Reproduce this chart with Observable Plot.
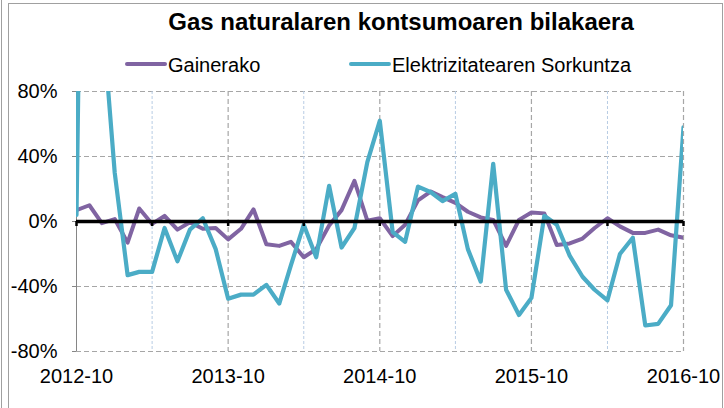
<!DOCTYPE html>
<html>
<head>
<meta charset="utf-8">
<script src="https://cdn.jsdelivr.net/npm/d3@7"></script>
<script src="https://cdn.jsdelivr.net/npm/@observablehq/plot@0.6"></script>
<style>
  html, body { margin: 0; padding: 0; background: #fff; }
  #chart { position: relative; width: 724px; height: 408px; overflow: hidden; font-family: "Liberation Sans", Arial, sans-serif; }
  .frame { position: absolute; left: 8px; top: 3px; width: 713px; height: 430px; border: 1px solid #a0a0a0; }
  .frame2 { position: absolute; left: 1px; top: 0px; width: 0; height: 408px; border-left: 1px solid #a0a0a0; }
  #title { position: absolute; top: 10px; left: 401px; transform: translateX(-50%); white-space: nowrap; font-weight: bold; font-size: 24px; line-height: 23px; color: #000; }
  .leg { position: absolute; top: 55px; font-size: 20px; line-height: 20px; white-space: nowrap; color: #000; }
  .sw { position: absolute; height: 4px; top: 62px; }
  #plot { position: absolute; left: 0; top: 80px; }
</style>
</head>
<body>
<div id="chart">
  <div class="frame"></div>
  <div class="frame2"></div>
  <div id="title"></div>
  <div id="legend"></div>
  <div id="plot"></div>
</div>
<script>
const title = "Gas naturalaren kontsumoaren bilakaera";
const seriesNames = ["Gainerako", "Elektrizitatearen Sorkuntza"];
const seriesColors = ["#8064a2", "#4bacc6"];

// monthly, 2012-10 .. 2016-10
const firstMonth = "2012-10";
const lastMonth = "2016-10";

const gainerako = [7, 10, -1, 1.5, -13, 8, -1.5, 3.5, -5, -0.5, -4.5, -4, -11,
  -4.5, 7.5, -14, -15, -12.5, -22, -17, -2.5, 7, 25, 0.5, 2,
  -9, -2, 13, 18.5, 15, 11.5, 6, 2.5, 1, -15, 1, 5.5,
  5, -14.5, -13.5, -10.5, -4, 2, -3, -7, -7, -5, -8.5, -10];

const elektrizitatea = [4, 570, 130, 30, -33, -31, -31, -4, -24.5, -5, 2, -17, -47.5,
  -45, -45, -39, -50.5, -27, -2, -22, 22, -16, -4, 36.5, 62,
  -6.5, -12.5, 21.5, 18, 12.5, 17, -17, -37, 35.5, -42, -57.5, -47,
  3.5, -2, -21, -34, -42, -48.5, -20, -10, -64, -63, -51.5, 58];

const yTicks = [80, 40, 0, -40, -80];
const yGrid = [80, 40, -40, -80];
const xTickLabels = ["2012-10", "2013-10", "2014-10", "2015-10", "2016-10"];
const yearGrid = ["2013-10", "2014-10", "2015-10", "2016-10"];
const halfYearGrid = ["2013-04", "2014-04", "2015-04", "2016-04"];
const axisTicks = ["2012-10", "2013-04", "2013-10", "2014-04", "2014-10", "2015-04", "2015-10", "2016-04", "2016-10"];

const parse = d3.utcParse("%Y-%m");
const start = parse(firstMonth), end = parse(lastMonth);
const months = d3.utcMonth.range(start, d3.utcMonth.offset(end, 1));

const dataG = months.map((d, i) => ({date: d, value: gainerako[i]}));
const dataE = months.map((d, i) => ({date: d, value: elektrizitatea[i]}));

document.getElementById("title").textContent = title;

// legend
const legend = document.getElementById("legend");
const legPos = [{sw: 125, tx: 168}, {sw: 349, tx: 392}];
seriesNames.forEach((name, k) => {
  const sw = document.createElement("div");
  sw.className = "sw";
  sw.style.left = legPos[k].sw + "px";
  sw.style.width = "42px";
  sw.style.background = seriesColors[k];
  sw.style.borderRadius = "2px";
  legend.appendChild(sw);
  const t = document.createElement("div");
  t.className = "leg";
  t.style.left = legPos[k].tx + "px";
  t.textContent = name;
  legend.appendChild(t);
});

const fmt = d3.utcFormat("%Y-%m");

const plot = Plot.plot({
  width: 724,
  height: 328,
  marginTop: 11,
  marginBottom: 57,
  marginLeft: 76,
  marginRight: 41,
  style: {fontSize: "20px", fontFamily: "'Liberation Sans', Arial, sans-serif", background: "transparent", color: "#000"},
  x: {type: "utc", domain: [start, end], label: null},
  y: {domain: [-80, 80], label: null},
  marks: [
    Plot.ruleY(yGrid, {stroke: "#a6a6a6", strokeWidth: 1.2, strokeDasharray: "5,3"}),
    Plot.ruleX(halfYearGrid.map(parse), {stroke: "#b8cce4", strokeWidth: 1, strokeDasharray: "3,2"}),
    Plot.ruleX(yearGrid.map(parse), {stroke: "#a6a6a6", strokeWidth: 1.2, strokeDasharray: "5,3"}),
    Plot.ruleX([start], {stroke: "#868686", strokeWidth: 1}),
    Plot.axisY({ticks: yTicks, tickFormat: d => d + "%", tickSize: 4, tickPadding: 15, stroke: "#868686", fill: "#000", label: null}),
    Plot.axisX({ticks: xTickLabels.map(parse), tickFormat: fmt, tickSize: 0, tickPadding: 17, fill: "#000", label: null}),
    Plot.lineY(dataG, {x: "date", y: "value", stroke: seriesColors[0], strokeWidth: 4, strokeLinejoin: "round", clip: true}),
    Plot.lineY(dataE, {x: "date", y: "value", stroke: seriesColors[1], strokeWidth: 4.2, strokeLinejoin: "round", clip: true}),
    Plot.ruleY([0], {stroke: "#000", strokeWidth: 3.5}),
    Plot.ruleX(axisTicks.map(parse), {y1: 0, y2: 0, insetTop: 0, insetBottom: -5, stroke: "#000", strokeWidth: 2.5})
  ]
});
document.getElementById("plot").appendChild(plot);
</script>
</body>
</html>
